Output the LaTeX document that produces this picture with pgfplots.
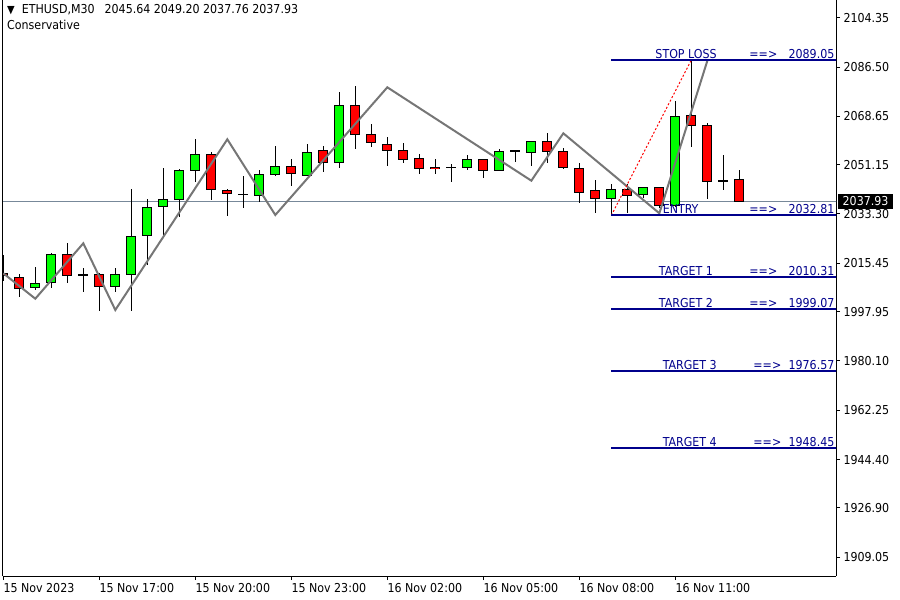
\documentclass[border=0pt]{standalone}
\usepackage{fontspec}
\setmainfont{DejaVu Sans Condensed}
\usepackage{pgfplots}
\pgfplotsset{compat=1.18}
\usepackage{pgfplotstable}
\definecolor{bull}{RGB}{0,255,0}
\definecolor{bear}{RGB}{255,0,0}
\definecolor{navyl}{RGB}{0,0,140}
\definecolor{zz}{RGB}{118,118,118}
\definecolor{bid}{RGB}{119,136,153}

\pgfplotstableread{
i O H L C
0 2011.6 2018.5 2009.2 2011.2
1 2010.4 2011.6 2003.4 2006.4
2 2006.8 2014.0 2005.8 2008.2
3 2008.6 2019.1 2006.4 2018.7
4 2018.7 2022.9 2008.2 2011.1
5 2011.3 2013.7 2005.2 2011.1
6 2011.5 2011.9 1998.3 2007.1
7 2007.1 2013.7 2005.2 2011.5
8 2011.5 2042.4 1998.3 2025.3
9 2025.6 2038.7 2014.9 2035.8
10 2036.1 2049.9 2025.7 2038.7
11 2038.7 2049.5 2032.1 2048.9
12 2049.0 2060.5 2045.0 2054.7
13 2055.0 2055.7 2038.2 2042.3
14 2041.9 2042.4 2032.7 2040.8
15 2040.45 2047.1 2035.3 2040.45
16 2040.0 2049.3 2037.8 2047.7
17 2047.7 2058.0 2046.9 2050.6
18 2050.6 2053.3 2043.5 2048.1
19 2047.2 2058.7 2047.2 2055.7
20 2056.2 2058.0 2048.6 2052.1
21 2052.1 2077.4 2050.0 2072.7
22 2072.7 2079.5 2057.0 2061.9
23 2062.2 2066.0 2057.4 2059.0
24 2058.6 2061.1 2050.8 2056.4
25 2056.2 2059.1 2051.8 2053.0
26 2053.5 2055.0 2047.8 2049.9
27 2050.3 2053.2 2047.8 2049.9
28 2050.25 2051.4 2045.0 2050.25
29 2050.3 2054.6 2049.2 2053.2
30 2053.2 2053.2 2046.3 2049.2
31 2049.2 2056.8 2049.2 2056.1
32 2056.4 2056.4 2052.3 2056.1
33 2055.7 2059.7 2050.8 2059.7
34 2059.7 2062.6 2051.9 2056.1
35 2056.1 2057.1 2049.5 2050.3
36 2049.9 2051.7 2037.2 2041.2
37 2041.7 2045.7 2033.8 2039.0
38 2039.0 2044.2 2033.0 2042.3
39 2042.3 2044.2 2033.8 2040.1
40 2040.5 2043.2 2039.2 2042.8
41 2042.8 2042.8 2035.5 2036.2
42 2036.2 2074.3 2036.0 2068.7
43 2069.1 2089.05 2057.7 2065.5
44 2065.2 2066.2 2038.9 2045.0
45 2045.3 2054.7 2042.0 2045.3
46 2045.64 2049.20 2037.76 2037.93
}\candles

\begin{document}
\begin{tikzpicture}[font=\fontsize{12.3pt}{14pt}\selectfont]
\path[use as bounding box] (0,0) rectangle (900pt,600pt);
\begin{axis}[at={(2.5pt,24pt)}, anchor=south west, scale only axis,
  width=833.5pt, height=576pt,
  xmin=-0.05, xmax=52.04, ymin=1902.25, ymax=2110.76,
  clip mode=individual,
  axis x line*=bottom, axis y line*=right,
  axis line style={line width=1pt, black},
  tick align=outside, major tick length=4pt,
  tick style={line width=1pt, black},
  xtick={0,6,12,18,24,30,36,42},
  xticklabels={15 Nov 2023,15 Nov 17:00,15 Nov 20:00,15 Nov 23:00,16 Nov 02:00,16 Nov 05:00,16 Nov 08:00,16 Nov 11:00},
  xticklabel style={anchor=north west, inner xsep=0pt},
  ytick={2104.35,2086.50,2068.65,2051.15,2033.30,2015.45,1997.95,1980.10,1962.25,1944.40,1926.90,1909.05},
  yticklabels={2104.35,2086.50,2068.65,2051.15,2033.30,2015.45,1997.95,1980.10,1962.25,1944.40,1926.90,1909.05},
  yticklabel style={anchor=west},
  candle/.style={draw=none, no marks, error bars/.cd, y dir=both, y explicit, error mark=none},
]
% bid line
\addplot[bid, line width=1pt] coordinates {(-1,2037.93) (60,2037.93)};
% wicks
\addplot[candle, error bar style={draw=black, line width=1pt}]
  table[x=i, y expr={(\thisrow{H}+\thisrow{L})/2}, y error expr={(\thisrow{H}-\thisrow{L})/2}] {\candles};
% body outlines
\addplot[candle, error bar style={draw=black, line width=10pt}]
  table[x=i, y expr={(\thisrow{O}+\thisrow{C})/2}, y error expr={abs(\thisrow{C}-\thisrow{O})/2+0.181}] {\candles};
% bull bodies
\addplot[candle, error bar style={draw=bull, line width=8pt}]
  table[x=i, y expr={(\thisrow{O}+\thisrow{C})/2}, y error expr={(\thisrow{C}>\thisrow{O})*max(abs(\thisrow{C}-\thisrow{O})/2-0.181,0)}] {\candles};
% bear bodies
\addplot[candle, error bar style={draw=bear, line width=8pt}]
  table[x=i, y expr={(\thisrow{O}+\thisrow{C})/2}, y error expr={(\thisrow{C}<\thisrow{O})*max(abs(\thisrow{C}-\thisrow{O})/2-0.181,0)}] {\candles};
% zigzag
\addplot[zz, line width=2pt] coordinates {(0,2011.82) (2,2002.63) (5,2022.68) (7,1998.54) (14,2060.33) (17,2032.93) (24,2079.15) (33,2045.35) (35,2062.5) (41,2033.55) (44,2088.78)};
% dotted red
\addplot[bear, line width=1pt, dash pattern=on 2pt off 2pt] coordinates {(38,2032.81) (43,2089.05)};
% levels
\addplot[navyl, line width=2pt] coordinates {(38,2089.05) (60,2089.05)};
\addplot[navyl, line width=2pt] coordinates {(38,2032.81) (60,2032.81)};
\addplot[navyl, line width=2pt] coordinates {(38,2010.31) (60,2010.31)};
\addplot[navyl, line width=2pt] coordinates {(38,1999.07) (60,1999.07)};
\addplot[navyl, line width=2pt] coordinates {(38,1976.57) (60,1976.57)};
\addplot[navyl, line width=2pt] coordinates {(38,1948.45) (60,1948.45)};
\draw[black, line width=1pt] (rel axis cs:0,0) -- (rel axis cs:0,1);
\begin{scope}[every node/.style={text=navyl, inner sep=0pt, yshift=1.5pt}]
\node[anchor=base] at (axis cs:42.67,2089.05) {STOP LOSS};
\node[anchor=base] at (axis cs:47.5,2089.05) {==>};
\node[anchor=base east] at (axis cs:51.95,2089.05) {2089.05};
\node[anchor=base] at (axis cs:42.33,2032.81) {ENTRY};
\node[anchor=base] at (axis cs:47.5,2032.81) {==>};
\node[anchor=base east] at (axis cs:51.95,2032.81) {2032.81};
\node[anchor=base] at (axis cs:42.66,2010.31) {TARGET 1};
\node[anchor=base] at (axis cs:47.5,2010.31) {==>};
\node[anchor=base east] at (axis cs:51.95,2010.31) {2010.31};
\node[anchor=base] at (axis cs:42.66,1999.07) {TARGET 2};
\node[anchor=base] at (axis cs:47.5,1999.07) {==>};
\node[anchor=base east] at (axis cs:51.95,1999.07) {1999.07};
\node[anchor=base] at (axis cs:42.9,1976.57) {TARGET 3};
\node[anchor=base] at (axis cs:47.75,1976.57) {==>};
\node[anchor=base east] at (axis cs:51.95,1976.57) {1976.57};
\node[anchor=base] at (axis cs:42.9,1948.45) {TARGET 4};
\node[anchor=base] at (axis cs:47.75,1948.45) {==>};
\node[anchor=base east] at (axis cs:51.95,1948.45) {1948.45};
\end{scope}
\node[fill=black, text=white, anchor=west, inner xsep=4.5pt, inner ysep=0pt, minimum height=15pt, xshift=2pt] at (axis cs:52.04,2037.93) {2037.93};
\end{axis}
\node[anchor=west, inner sep=0pt] at (7pt,590pt) {{\fontsize{11pt}{11pt}\selectfont▼}\hspace{7pt}ETHUSD,M30\hspace{10pt}2045.64 2049.20 2037.76 2037.93};
\node[anchor=west, inner sep=0pt] at (7pt,575.5pt) {Conservative};
\end{tikzpicture}
\end{document}
